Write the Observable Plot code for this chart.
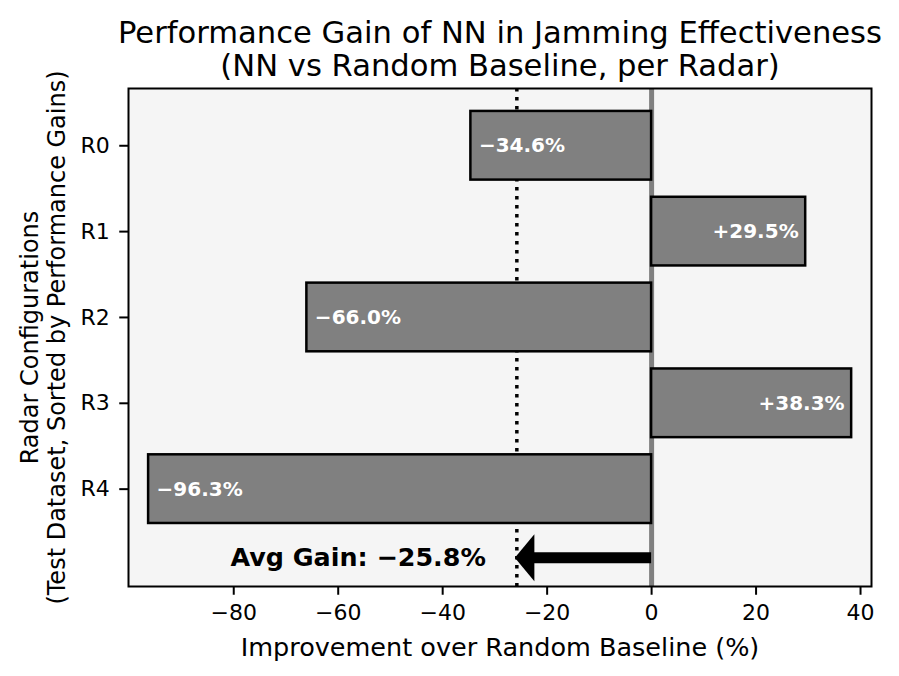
<!DOCTYPE html>
<html>
<head>
<meta charset="utf-8">
<script src="https://cdn.jsdelivr.net/npm/d3@7"></script>
<script src="https://cdn.jsdelivr.net/npm/@observablehq/plot@0.6"></script>
<style>
  html, body { margin: 0; padding: 0; background: white; }
  #chart svg { display: block; }
  #chart g[aria-label="x-axis tick label"], #chart g[aria-label="y-axis tick label"] { font-size: 22px; }
</style>
</head>
<body>
<div id="chart"></div>
<script>
// ---- data ----
const radars = ["R0", "R1", "R2", "R3", "R4"];
const gains = [-34.6, 29.5, -66.0, 38.3, -96.3];
const avgGain = -25.8;
const xTicks = [-80, -60, -40, -20, 0, 20, 40];
const titleLines = ["Performance Gain of NN in Jamming Effectiveness", "(NN vs Random Baseline, per Radar)"];
const yLabelLines = ["Radar Configurations", "(Test Dataset, Sorted by Performance Gains)"];
const xLabel = "Improvement over Random Baseline (%)";

const rows = radars.map((r, i) => ({radar: r, i, gain: gains[i]}));
const fmt = d3.format("+.1f");
const labelOf = d => fmt(d.gain) + "%";
const avgText = "Avg Gain: " + d3.format(".1f")(avgGain) + "%";
const arrowRow = radars.length - 0.2;

const headSymbol = {
  draw(ctx, size) {
    const s = Math.sqrt(size / Math.PI);
    ctx.moveTo(0, 0);
    ctx.lineTo(1.95 * s, -2.35 * s);
    ctx.lineTo(1.95 * s, 2.35 * s);
    ctx.closePath();
  }
};

const W = 899, H = 676;
const chart = Plot.plot({
  width: W,
  height: H,
  marginLeft: 128,
  marginRight: 28,
  marginTop: 88,
  marginBottom: 90,
  style: {fontFamily: "DejaVu Sans", fontSize: "20px", color: "black", background: "white"},
  x: {domain: [-100.15, 42.1]},
  y: {domain: [-0.667, 5.134], reverse: true},
  marks: [
    Plot.frame({fill: "#f5f5f5"}),
    Plot.ruleX([avgGain], {stroke: "black", strokeWidth: 3.5, strokeDasharray: "3.5,5.5"}),
    Plot.ruleX([0], {stroke: "#808080", strokeWidth: 5}),
    Plot.rect(rows, {x1: () => 0, x2: "gain", y1: d => d.i - 0.4, y2: d => d.i + 0.4, fill: "#808080", stroke: "black", strokeWidth: 2.5}),
    Plot.text(rows.filter(d => d.gain < 0), {x: "gain", y: "i", text: labelOf, textAnchor: "start", dx: 8, fill: "white", fontWeight: "bold", fontSize: 20}),
    Plot.text(rows.filter(d => d.gain >= 0), {x: "gain", y: "i", text: labelOf, textAnchor: "end", dx: -7, fill: "white", fontWeight: "bold", fontSize: 20}),
    Plot.ruleY([arrowRow], {x1: avgGain, x2: 0, stroke: "black", strokeWidth: 11, insetLeft: 14}),
    Plot.dot([{x: avgGain, y: arrowRow}], {x: "x", y: "y", r: 10, symbol: headSymbol, fill: "black", stroke: "none", dx: -2}),
    Plot.text([avgText], {x: avgGain, y: arrowRow, text: d => d, textAnchor: "end", dx: -31, fontWeight: "bold", fontSize: 25.4, fill: "black"}),
    Plot.frame({stroke: "black", strokeWidth: 2}),
    Plot.axisX({ticks: xTicks, tickFormat: d3.format("d"), tickSize: 8.75, tickPadding: 9, strokeWidth: 2, fontSize: 22, label: null}),
    Plot.axisY({ticks: radars.map((r, i) => i), tickFormat: i => radars[i], tickSize: 8.75, tickPadding: 10, strokeWidth: 2, fontSize: 22, label: null}),
    Plot.text([xLabel], {frameAnchor: "bottom", dy: 61, text: d => d, lineAnchor: "middle", fontSize: 25.5, fill: "black"}),
    Plot.text([titleLines[0]], {frameAnchor: "top", dy: -55, text: d => d, lineAnchor: "middle", fontSize: 30.6, fill: "black"}),
    Plot.text([titleLines[1]], {frameAnchor: "top", dy: -22, text: d => d, lineAnchor: "middle", fontSize: 30.6, fill: "black"}),
    Plot.text([yLabelLines[0]], {frameAnchor: "left", dx: -98, rotate: -90, text: d => d, textAnchor: "middle", lineAnchor: "middle", fontSize: 24, fill: "black"}),
    Plot.text([yLabelLines[1]], {frameAnchor: "left", dx: -71, rotate: -90, text: d => d, textAnchor: "middle", lineAnchor: "middle", fontSize: 24, fill: "black"})
  ]
});
document.getElementById("chart").appendChild(chart);
</script>
</body>
</html>
